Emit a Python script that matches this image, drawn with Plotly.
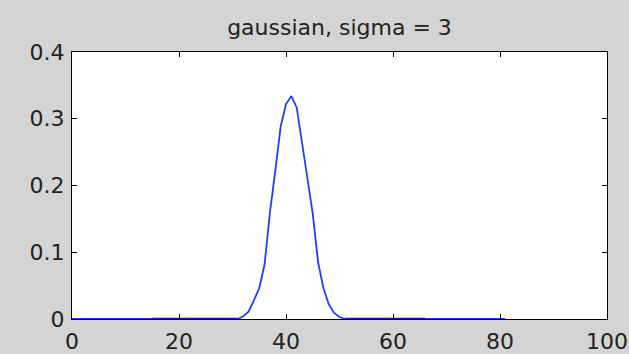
import plotly.graph_objects as go

# sample positions and gaussian values
x_vals = list(range(0, 82))
y_vals = [
    0, 0, 0, 0, 0, 0, 0, 0, 0, 0,            # 0-9
    0, 0, 0, 0, 0, 0, 0, 0, 0, 0,            # 10-19
    0, 0, 0, 0, 0, 0, 0, 0, 0, 0,            # 20-29
    0, 0.000, 0.004, 0.011, 0.028, 0.046, 0.082, 0.160, 0.222, 0.288,  # 30-39
    0.322, 0.334, 0.317, 0.262, 0.210, 0.158, 0.085, 0.046, 0.022, 0.009,  # 40-49
    0.003, 0, 0, 0, 0, 0, 0, 0, 0, 0,        # 50-59
    0, 0, 0, 0, 0, 0, 0, 0, 0, 0,            # 60-69
    0, 0, 0, 0, 0, 0, 0, 0, 0, 0,            # 70-79
    0, 0,                                    # 80-81
]

# darker flat segments seen along the baseline
dark_x = [15, 31, None, 51, 66]
dark_y = [0, 0, None, 0, 0]

x_ticks = [0, 20, 40, 60, 80, 100]
y_ticks = [0, 0.1, 0.2, 0.3, 0.4]
y_tick_text = ["0", "0.1", "0.2", "0.3", "0.4"]

title_text = "gaussian, sigma = 3"

fig = go.Figure()
fig.add_trace(go.Scatter(x=x_vals, y=y_vals, mode="lines",
                         line=dict(color="#1f3fff", width=1.8),
                         hoverinfo="skip", showlegend=False))
fig.add_trace(go.Scatter(x=dark_x, y=dark_y, mode="lines",
                         line=dict(color="#0a1a9a", width=2.6),
                         hoverinfo="skip", showlegend=False))

axis_common = dict(showline=True, linecolor="black", linewidth=1,
                   mirror="ticks", ticks="inside", ticklen=5,
                   tickcolor="black", tickwidth=1,
                   showgrid=False, zeroline=False, automargin=False,
                   tickfont=dict(family="DejaVu Sans", size=22, color="#222222"))

fig.update_layout(
    width=629, height=354,
    margin=dict(l=72, r=22, t=52, b=35),
    paper_bgcolor="rgb(212,212,212)",
    plot_bgcolor="white",
    title=dict(text=title_text, x=(72 + 607) / 2 / 629, xanchor="center",
               y=1 - 27 / 354, yanchor="middle", yref="container",
               font=dict(family="DejaVu Sans", size=22, color="#222222")),
    xaxis=dict(range=[0, 100], tickvals=x_ticks, ticklabelstandoff=3, **axis_common),
    yaxis=dict(range=[0, 0.4], tickvals=y_ticks, ticktext=y_tick_text,
               ticklabelstandoff=2, **axis_common),
)

fig.write_html("out.html")
